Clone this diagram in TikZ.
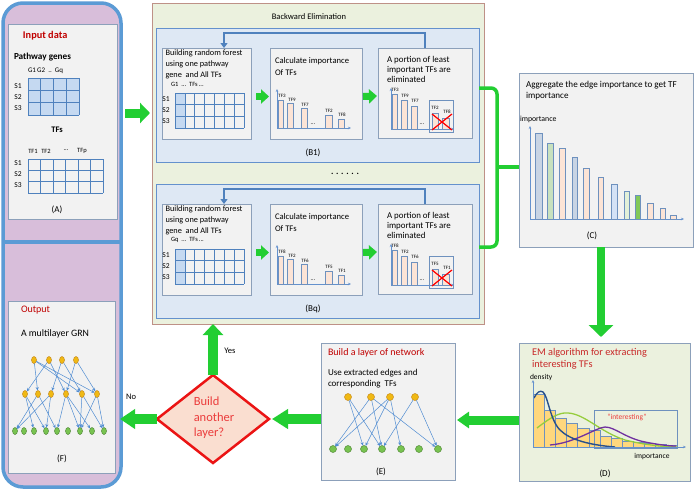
\documentclass[tikz,border=0pt]{standalone}
\usepackage{fontspec}
\setmainfont{Carlito}
\usetikzlibrary{arrows.meta,shapes.geometric}
\definecolor{garr}{RGB}{34,206,50}
\definecolor{lpborder}{RGB}{91,155,213}
\definecolor{lpfill}{RGB}{216,190,218}
\definecolor{boxfill}{RGB}{242,242,242}
\definecolor{boxline}{RGB}{140,160,186}
\definecolor{bfill}{RGB}{235,241,222}
\definecolor{bline}{RGB}{190,145,135}
\definecolor{pfill}{RGB}{222,232,244}
\definecolor{pline}{RGB}{100,145,205}
\definecolor{fbcol}{RGB}{79,129,189}
\definecolor{peach}{RGB}{252,228,214}
\definecolor{barline}{RGB}{110,145,190}
\definecolor{tblue}{RGB}{197,217,241}
\definecolor{tline}{RGB}{79,129,189}
\definecolor{dred}{RGB}{192,0,0}
\definecolor{tred}{RGB}{200,40,40}
\definecolor{dmline}{RGB}{235,20,20}
\definecolor{dmfill}{RGB}{250,222,208}
\definecolor{onode}{RGB}{240,185,20}
\definecolor{onodeline}{RGB}{200,140,30}
\definecolor{gnode}{RGB}{120,195,80}
\definecolor{gnodeline}{RGB}{85,140,60}
\definecolor{netedge}{RGB}{80,140,210}
\definecolor{axcol}{RGB}{100,145,205}
\definecolor{histfill}{RGB}{255,215,125}
\definecolor{cblue}{RGB}{200,212,228}
\definecolor{cgreen}{RGB}{200,225,190}
\definecolor{lblue}{RGB}{212,226,246}
\definecolor{lgreen}{RGB}{226,240,216}
\definecolor{dgreen}{RGB}{130,200,90}
\definecolor{curveblue}{RGB}{40,80,140}
\definecolor{curvegreen}{RGB}{150,205,60}
\definecolor{curvepurple}{RGB}{112,48,160}
\definecolor{intred}{RGB}{235,60,60}
\tikzset{
  fs/.style={font=\fontsize{#1}{#1}\selectfont},
  ibox/.style={draw=boxline, fill=boxfill, line width=0.8pt},
  bpanel/.style={draw=pline, fill=pfill, line width=1pt},
  barst/.style={draw=barline, fill=peach, line width=0.6pt},
  tgrid/.style={draw=tline, line width=0.6pt},
  ax/.style={draw=axcol, line width=0.7pt, -{Stealth[length=3pt,width=2.5pt]}},
  tl/.style={fs=5},
  fb/.style={draw=fbcol, line width=2.5pt, -{Triangle[width=7pt,length=5pt]}},
  bigH/.style={draw=garr, line width=9pt, -{Triangle[width=20pt,length=12pt]}},
  bigV/.style={draw=garr, line width=9pt, -{Triangle[width=22pt,length=12pt]}},
  smallarr/.style={draw=garr, line width=7pt, -{Triangle[width=14pt,length=8pt]}},
  gbr/.style={draw=garr, line width=3.5pt},
  net/.style={draw=netedge, line width=0.5pt, -{Stealth[length=3.5pt,width=3pt]}},
  onF/.style={ellipse, draw=onodeline, fill=onode, line width=0.5pt, minimum width=5pt, minimum height=7pt},
  gnF/.style={ellipse, draw=gnodeline, fill=gnode, line width=0.5pt, minimum width=5pt, minimum height=7pt},
  onE/.style={circle, draw=onodeline, fill=onode, line width=0.5pt, minimum size=7pt},
  gnE/.style={circle, draw=gnodeline, fill=gnode, line width=0.5pt, minimum size=7pt},
}
\newcommand{\Bpanel}[9]{%
\begin{scope}[shift={(0,#2)}]
\node[bpanel, minimum width=323pt, minimum height=134pt, anchor=north west] (#1p) at (156,28) {};
\node[ibox, minimum width=89pt, minimum height=91pt, anchor=north west] (#1b1) at (162,48) {};
\node[ibox, minimum width=92pt, minimum height=91pt, anchor=north west] (#1b2) at (270,48) {};
\node[ibox, minimum width=94pt, minimum height=90pt, anchor=north west] (#1b3) at (378,48) {};
\coordinate (#1fa) at (224,33);
\coordinate (#1fe) at (224,48);
\draw[fb] (#1b3.north) |- (#1fa) -- (#1fe);
\draw[smallarr] ([xshift=5pt,yshift=-3pt]#1b1.east) -- ([xshift=-1pt,yshift=-3pt]#1b2.west);
\draw[smallarr] ([xshift=1pt,yshift=-3pt]#1b2.east) -- ([xshift=-1pt,yshift=-3pt]#1b3.west);
% box 1
\node[anchor=north west, align=left, font=\fontsize{8.3}{10.8}\selectfont] (#1t1) at (165.5,50) {Building random forest\\using one pathway\\gene\ \ and All TFs};
\node[anchor=west, fs=6.5] (#1gh) at (171,84) {#3\ \ ...\ \ TFs\,...};
\fill[tblue] (175,93) rectangle (184.86,128);
\foreach \i in {0,...,7} \draw[tgrid] ({175+\i*9.857},93) -- ({175+\i*9.857},128);
\foreach \j in {0,...,3} \draw[tgrid] (175,{93+\j*11.667}) -- (244,{93+\j*11.667});
\foreach \s/\yy in {S1/99,S2/110,S3/121} \node[fs=7.5] at (166,\yy) {\s};
% box 2
\node[anchor=north west, align=left, font=\fontsize{8.6}{11.5}\selectfont] (#1t2) at (275,58) {Calculate importance\\Of TFs};
\draw[ax] (277,128) -- (277,89);
\draw[ax] (277,128) -- (351,128);
\draw[barst] (278,128) rectangle (283,100);
\draw[barst] (287,128) rectangle (293,103);
\draw[barst] (301,128) rectangle (307,108);
\node[fs=6] at (313,124) {...};
\draw[barst] (325,128) rectangle (332,115);
\draw[barst] (338,128) rectangle (344,119);
\node[tl] at (282,96) {#4};
\node[tl] at (292,100) {#5};
\node[tl] at (305,105) {#6};
\node[tl] at (329,111) {#7};
\node[tl] at (342,115) {#8};
% box 3
\node[anchor=north west, align=left, font=\fontsize{8.9}{9.8}\selectfont] (#1t3) at (387,56.5) {A portion of least\\important TFs are\\eliminated};
\draw[ax] (391,129) -- (391,88);
\draw[ax] (391,129) -- (454,129);
\draw[barst] (392,129) rectangle (397,94);
\draw[barst] (401,129) rectangle (407,100);
\draw[barst] (411,129) rectangle (417,106);
\node[fs=6] at (422,124) {...};
\draw[draw=barline, line width=0.7pt] (429,100) rectangle (453,132);
\draw[barst] (432,129) rectangle (438,113);
\draw[barst] (442,129) rectangle (449,118);
\node[tl] at (395,90) {#4};
\node[tl] at (405,96) {#5};
\node[tl] at (415,101) {#6};
\node[tl] at (435,108) {#7};
\node[tl] at (447,112) {#8};
\draw[red, line width=1.2pt] (432,114) -- (452,130);
\draw[red, line width=1.2pt] (432,130) -- (452,114);
\node[fs=9] (#1lab) at (313,153) {#9};
\end{scope}}
\begin{document}
\begin{tikzpicture}[x=1pt,y=-1pt, every node/.style={inner sep=0pt, outer sep=0pt}]
\useasboundingbox (0,0) rectangle (694,490);
\fill[white] (0,0) rectangle (694,490);
% ---------- left panel
\node[draw=lpborder, fill=lpfill, line width=3.5pt, rounded corners=20pt, minimum width=118pt, minimum height=484pt, anchor=north west] (lp) at (3,3) {};
\draw[draw=lpborder, line width=3.5pt] (lp.west |- 0,242) -- (lp.east |- 0,242);
\node[ibox, minimum width=109pt, minimum height=195pt, anchor=north west] (A) at (8,24) {};
\node[fs=10.3, text=dred, anchor=west] (Ati) at (23,36) {\bfseries Input data};
\node[fs=9.2, anchor=west] (Apg) at (14,57) {\bfseries Pathway genes};
\node[fs=7, anchor=west] (Agh) at (28,71) {G1\,G2\ \ ..\ \ Gq};
\fill[tblue] (28,78) rectangle (79,115);
\foreach \i in {0,...,4} \draw[tgrid] ({28+\i*12.75},78) -- ({28+\i*12.75},115);
\foreach \j in {0,...,3} \draw[tgrid] (28,{78+\j*12.333}) -- (79,{78+\j*12.333});
\foreach \s/\yy in {S1/86,S2/97,S3/108} \node[fs=7.5] at (18,\yy) {\s};
\node[fs=8.5] (Atf) at (57,130) {\bfseries TFs};
\node[fs=6.5] at (33,151) {TF1};
\node[fs=6.5] at (46,151) {TF2};
\node[fs=6.5] at (66,150) {...};
\node[fs=6.5] at (82,151) {TFp};
\foreach \i in {0,...,6} \draw[tgrid] ({28+\i*12.5},159) -- ({28+\i*12.5},193);
\foreach \j in {0,...,3} \draw[tgrid] (28,{159+\j*11.333}) -- (103,{159+\j*11.333});
\foreach \s/\yy in {S1/163,S2/174,S3/185} \node[fs=7.5] at (18,\yy) {\s};
\node[fs=9] (Alab) at (57,210) {(A)};
% F box
\node[ibox, minimum width=107pt, minimum height=172pt, anchor=north west] (F) at (8,301) {};
\node[fs=10, text=dred, anchor=west] (Fti) at (21,310) {Output};
\node[fs=9.8, anchor=west] (Fsub) at (21,334) {A multilayer GRN};
\foreach \x [count=\i] in {34,49,62,76} \node[onF] (ft\i) at (\x,360) {};
\foreach \x [count=\i] in {25,38,51,66,82,97} \node[onF] (fm\i) at (\x,394) {};
\foreach \x [count=\i] in {15,24,34,46,57,68,80,92,104} \node[gnF] (fb\i) at (\x,431) {};
\foreach \a/\b in {ft1/fm2,ft1/fm5,ft1/fm6,ft2/fm1,ft2/fm4,ft3/fm3,ft3/fm5,ft4/fm4,ft4/fm6,
  fm1/fb3,fm1/fb4,fm2/fb1,fm2/fb5,fm3/fb1,fm3/fb4,fm4/fb5,fm4/fb7,fm4/fb8,fm5/fb7,fm5/fb9,fm6/fb7,fm6/fb9}
  \draw[net] (\a) -- (\b);
\node[fs=9] (Flab) at (62,459) {(F)};
% ---------- B container
\node[draw=bline, fill=bfill, line width=1pt, minimum width=332pt, minimum height=321pt, anchor=north west] (Bc) at (152,3) {};
\node[fs=8.5] (Bti) at (309,17) {Backward Elimination};
\Bpanel{B1}{0}{G1}{TF3}{TF9}{TF7}{TF2}{TF8}{(B1)}
\Bpanel{Bq}{156}{Gq}{TF8}{TF2}{TF6}{TF5}{TF1}{(Bq)}
\node[fs=9] (dots) at (345,174) {\bfseries . . . . . .};
% ---------- C box
\node[ibox, minimum width=174pt, minimum height=174pt, anchor=north west] (C) at (519,73) {};
\node[anchor=north west, align=left, font=\fontsize{9.1}{10.5}\selectfont] (Cti) at (526,81.5) {Aggregate the edge importance to get TF\\importance};
\node[fs=7.8, anchor=west] (Cy) at (520,119) {importance};
\draw[ax] (530,219) -- (530,126);
\draw[ax] (530,219) -- (684,219);
\foreach \xa/\xb/\yt/\cc in {535/542/133/cblue,547/553/143/cgreen,559/565/148/peach,572/577/157/cblue,583/589/168/peach,598/603/177/peach,611/617/184/lblue,624/629/191/lgreen,635/640/195/dgreen,647/653/203/peach,660/665/208/peach,670/676/215/peach}
  \draw[draw=barline, fill=\cc, line width=0.6pt] (\xa,219) rectangle (\xb,\yt);
\node[fs=9] (Clab) at (592,236) {(C)};
% ---------- D box
\node[draw=boxline, fill=bfill, line width=0.8pt, minimum width=171pt, minimum height=138pt, anchor=north west] (D) at (519,343) {};
\node[anchor=north west, align=left, text=tred, font=\fontsize{10.3}{12}\selectfont] (Dti) at (532,348) {EM algorithm for extracting\\interesting TFs};
\node[fs=7.5, anchor=west] (Dy) at (530,377) {density};
\foreach \xa/\xb/\yt in {533.3/544.3/394,544.3/555.7/410,555.7/566.7/418,566.7/577.7/423,577.7/589/428,589/600/430,600/611/436,611/622.3/438,622.3/633.3/441,633.3/644.3/442,644.3/655.7/443,655.7/666.7/444,666.7/677.7/445}
  \draw[draw=barline, fill=histfill, line width=0.6pt] (\xa,447) rectangle (\xb,\yt);
\draw[draw=barline, line width=0.7pt] (594,410) rectangle (677,448);
\node[fs=7.5, text=intred] (Dint) at (627,417) {``interesting''};
\draw[curvegreen, line width=1.3pt] (537,428) .. controls (550,418) and (559,412) .. (568,413) .. controls (585,414) and (600,432) .. (625,440) .. controls (645,445) and (665,447) .. (677,447);
\draw[curvepurple, line width=1.3pt] (550,445) .. controls (575,443) and (595,428) .. (605,427) .. controls (615,427) and (625,438) .. (645,442) .. controls (660,445) and (670,446) .. (676,446);
\draw[curveblue, line width=1.4pt] (534,398) .. controls (537,392) and (540,390) .. (543,392) .. controls (548,396) and (550,420) .. (560,430) .. controls (570,440) and (590,445) .. (615,447);
\draw[ax] (533,447) -- (533,380);
\draw[ax] (533,447) -- (686,447);
\node[fs=7.5] (Dx) at (652,457) {importance};
\node[fs=9] (Dlab) at (605,474) {(D)};
% ---------- E box
\node[ibox, minimum width=134pt, minimum height=137pt, anchor=north west] (E) at (321,343) {};
\node[fs=10, text=dred, anchor=west] (Eti) at (328,353) {Build a layer of network};
\node[anchor=north west, align=left, font=\fontsize{9}{11.5}\selectfont] (Esub) at (328,369) {Use extracted edges and\\corresponding\ \ TFs};
\foreach \x [count=\i] in {348,371,390,415} \node[onE] (et\i) at (\x,397) {};
\foreach \x [count=\i] in {333,348,364,382,401,419,438} \node[gnE] (eb\i) at (\x,449) {};
\foreach \a/\b in {et1/eb3,et1/eb4,et2/eb1,et2/eb4,et2/eb7,et3/eb1,et3/eb3,et3/eb5,et4/eb4,et4/eb7}
  \draw[net] (\a) -- (\b);
\node[fs=9] (Elab) at (381,472) {(E)};
% ---------- diamond
\node[diamond, draw=dmline, fill=dmfill, line width=2.5pt, minimum width=112pt, minimum height=88pt] (dm) at (213,419) {};
\node[align=left, text=intred, font=\fontsize{12.5}{15.5}\selectfont] (dmt) at (214,418) {Build\\another\\layer?};
% ---------- arrows
\draw[bigH, line width=9pt, -{Triangle[width=20pt,length=10pt]}] ([xshift=4pt]lp.east |- 0,113) -- ([xshift=-2pt]Bc.west |- 0,113);
\draw[gbr, rounded corners=6pt] (B1p.east |- 0,88) -- (497,88) -- (497,247) -- (Bqp.east |- 0,247);
\draw[gbr] (497,167) -- (C.west |- 0,167);
\draw[bigV, line width=8pt, -{Triangle[width=24pt,length=12pt]}] (C.south -| 601,0) -- ([yshift=6pt]D.north -| 601,0);
\draw[bigH, line width=9pt, -{Triangle[width=16pt,length=12pt]}] (D.west |- 0,420) -- ([xshift=2pt]E.east |- 0,420);
\draw[bigH, line width=10pt, -{Triangle[width=19pt,length=16pt]}] (E.west |- 0,419) -- ([xshift=3pt]dm.east);
\draw[bigH, line width=10pt, -{Triangle[width=19pt,length=15pt]}] (dm.west) -- ([xshift=-1pt]lp.east |- dm.west);
\draw[bigV, line width=10pt, -{Triangle[width=20pt,length=11pt]}] (dm.north) -- (dm.north |- Bc.south);
\node[fs=8.5] (yes) at (230,351) {Yes};
\node[fs=8.5] (no) at (131,397) {No};
\end{tikzpicture}
\end{document}
